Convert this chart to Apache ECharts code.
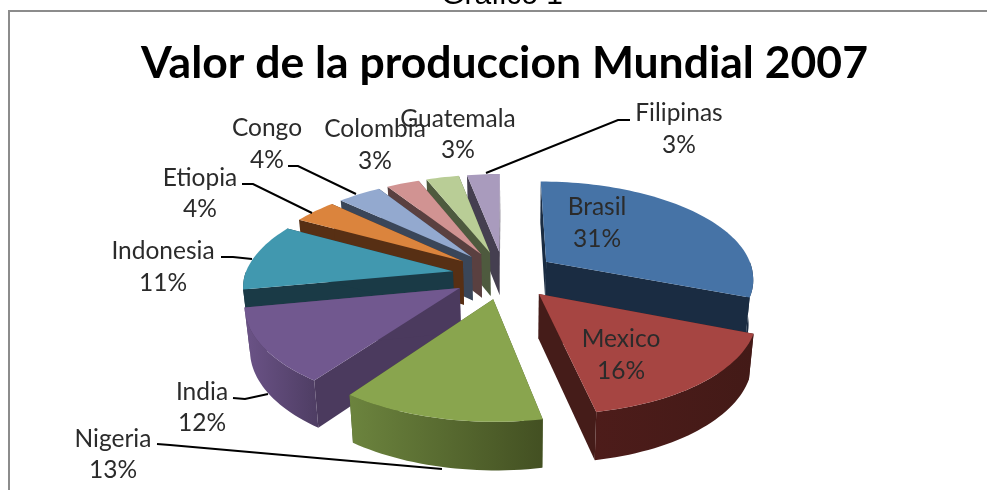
<!DOCTYPE html>
<html>
<head>
<meta charset="utf-8">
<title>Valor de la produccion Mundial 2007</title>
<script src="https://cdn.jsdelivr.net/npm/echarts@6/dist/echarts.min.js"></script>
<style>
  html, body { margin: 0; padding: 0; background: #fff; }
  #chart { width: 987px; height: 490px; }
</style>
</head>
<body>
<div id="chart"></div>
<script>
const titleText = 'Valor de la produccion Mundial 2007';
const captionText = 'Grafico 1';
const countries = ['Brasil', 'Mexico', 'Nigeria', 'India', 'Indonesia', 'Etiopia', 'Congo', 'Colombia', 'Guatemala', 'Filipinas'];
const shares = [31, 16, 13, 12, 11, 4, 4, 3, 3, 3];

// colores de cada rebanada (cara superior, paredes, borde claro y oscuro)
const topColors = ['#4673a6', '#a64542', '#89a54e', '#71588f', '#4198af', '#db843d', '#93a9cf', '#d19392', '#b9cd96', '#a99bbd'];
const wallColors = ['#1a2c42', '#451c19', '#4b5c2a', '#4b3a5e', '#1a3a46', '#572f14', '#3a4659', '#5a4040', '#4e5a3e', '#453f50'];
const rimLeft = ['#1a2c42', '#4d1c1a', '#6c843e', '#6b5387', '#1a3a46', '#572f14', '#3a4659', '#5a4040', '#4e5a3e', '#453f50'];
const rimRight = ['#1a2c42', '#431a17', '#435022', '#4e3d63', '#1a3a46', '#572f14', '#3a4659', '#5a4040', '#4e5a3e', '#453f50'];

// proyeccion del pastel con perspectiva
const center = { x: 504, y: 275 };
const radiusX = 208;
const radiusY = 96;
const perspective = 0.15;
const nearShift = 4; // lo cercano se corre un poco a la derecha
const explode = 0.25;

const labelFont = '24.5px Lato, "Open Sans", sans-serif';

// posicion de las etiquetas y sus lineas guia
const labelSpots = {
  Brasil: { x: 597, y: 207, gap: 32 },
  Mexico: { x: 621, y: 339, gap: 32 },
  Nigeria: { x: 113, y: 439, gap: 31, leader: [[157, 444], [170, 445], [442, 469]] },
  India: { x: 202, y: 392, gap: 31, leader: [[233, 398], [245, 399], [268, 394]] },
  Indonesia: { x: 163, y: 251, gap: 32, leader: [[221, 257], [233, 257], [252, 259]] },
  Etiopia: { x: 200, y: 178, gap: 31, leader: [[242, 184], [253, 184], [312, 213]] },
  Congo: { x: 267, y: 128, gap: 32, leader: [[288, 166], [298, 166], [356, 194]] },
  Colombia: { x: 375, y: 129, gap: 32 },
  Guatemala: { x: 458, y: 119, gap: 31 },
  Filipinas: { x: 679, y: 113, gap: 32, leader: [[630, 120], [618, 120], [486, 173]] }
};

const total = shares.reduce((a, b) => a + b, 0);
const slices = [];
let acc = 0;
shares.forEach((v, i) => {
  const start = acc / total * Math.PI * 2;
  acc += v;
  const end = acc / total * Math.PI * 2;
  const mid = (start + end) / 2;
  slices.push({ i, start, end, mid, depth: -Math.cos(mid) * explode });
});
// se dibuja de atras hacia adelante
const drawOrder = slices.slice().sort((a, b) => a.depth - b.depth);

function project(u, v) {
  const s = 1 / (1 - perspective * v);
  return { x: center.x + radiusX * u * s + nearShift * Math.max(v, 0), y: center.y + radiusY * v * s, s };
}

function rimPoint(slice, a) {
  const ox = Math.sin(slice.mid) * explode;
  const oy = -Math.cos(slice.mid) * explode;
  return project(ox + Math.sin(a), oy - Math.cos(a));
}

function apexPoint(slice) {
  return project(Math.sin(slice.mid) * explode, -Math.cos(slice.mid) * explode);
}

function lower(p) {
  return { x: 520 + (p.x - 520) * 0.98, y: p.y + 44 + (p.s - 1) * 20 };
}

function arcPoints(slice, from, to) {
  const pts = [];
  const steps = Math.max(2, Math.ceil((to - from) / 0.03));
  for (let k = 0; k <= steps; k++) {
    pts.push(rimPoint(slice, from + (to - from) * k / steps));
  }
  return pts;
}

const xy = p => [p.x, p.y];

function renderSlice(params, api) {
  const slice = drawOrder[api.value(0)];
  const i = slice.i;
  const apex = apexPoint(slice);
  const children = [];

  [slice.start, slice.end].forEach(a => {
    const rim = rimPoint(slice, a);
    children.push({
      type: 'polygon',
      shape: { points: [apex, rim, lower(rim), lower(apex)].map(xy) },
      style: { fill: wallColors[i] }
    });
  });

  // solo la parte del borde que mira hacia el frente
  const from = Math.max(slice.start, Math.PI / 2);
  const to = Math.min(slice.end, Math.PI * 1.5);
  if (to > from) {
    const arc = arcPoints(slice, from, to);
    children.push({
      type: 'polygon',
      shape: { points: arc.map(xy).concat(arc.map(lower).reverse().map(xy)) },
      style: {
        fill: new echarts.graphic.LinearGradient(0, 0, 1, 0, [
          { offset: 0, color: rimLeft[i] },
          { offset: 1, color: rimRight[i] }
        ])
      }
    });
  }

  children.push({
    type: 'polygon',
    shape: { points: [xy(apex)].concat(arcPoints(slice, slice.start, slice.end).map(xy)) },
    style: { fill: topColors[i] }
  });
  return { type: 'group', children };
}

function renderLabel(params, api) {
  const i = api.value(0);
  const spot = labelSpots[countries[i]];
  const children = [];
  if (spot.leader) {
    children.push({
      type: 'polyline',
      shape: { points: spot.leader },
      style: { stroke: '#000', lineWidth: 2, fill: null }
    });
  }
  [countries[i], shares[i] + '%'].forEach((text, row) => {
    children.push({
      type: 'text',
      style: {
        text,
        x: spot.x,
        y: spot.y + row * spot.gap,
        textAlign: 'center',
        textVerticalAlign: 'middle',
        font: labelFont,
        fill: '#2b2b2b'
      }
    });
  });
  return { type: 'group', children };
}

const chart = echarts.init(document.getElementById('chart'), null, { renderer: 'canvas' });
chart.setOption({
  animation: false,
  backgroundColor: '#fff',
  title: {
    text: titleText,
    left: 499.5,
    top: 36,
    textAlign: 'center',
    textStyle: { fontFamily: 'Lato, "Open Sans", sans-serif', fontWeight: 'bold', fontSize: 44.5, color: '#000' }
  },
  graphic: [
    {
      type: 'text',
      style: { text: captionText, x: 502, y: 11, textAlign: 'center', textVerticalAlign: 'bottom', font: '30px "Liberation Sans", Arial, sans-serif', fill: '#000' }
    },
    {
      type: 'polyline',
      shape: { points: [[9, 490], [9, 11], [987, 11]] },
      style: { stroke: '#8c8c8c', lineWidth: 2, fill: null }
    }
  ],
  series: [
    {
      type: 'custom',
      coordinateSystem: 'none',
      renderItem: renderSlice,
      data: drawOrder.map((s, k) => [k]),
      silent: true,
      z: 2
    },
    {
      type: 'custom',
      coordinateSystem: 'none',
      renderItem: renderLabel,
      data: countries.map((c, k) => [k]),
      silent: true,
      z: 3
    }
  ]
});
</script>
</body>
</html>
